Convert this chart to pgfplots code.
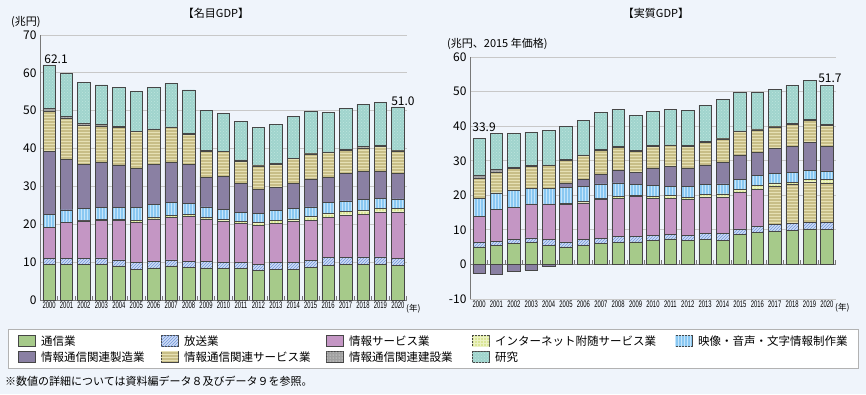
\documentclass[border=0pt]{standalone}
\usepackage{pgfplots}
\pgfplotsset{compat=1.18}
\usepackage{pgfplotstable}
\usetikzlibrary{patterns}
\usepackage{fontspec}
\setmainfont{Noto Sans CJK JP}
\newfontfamily\narrow[FakeStretch=0.62]{Liberation Sans}

\definecolor{bg}{RGB}{239,244,251}
\definecolor{cTsu}{RGB}{166,202,138}
\definecolor{cHoso}{RGB}{205,220,246}
\definecolor{cHosoL}{RGB}{115,150,218}
\definecolor{cJoho}{RGB}{196,150,196}
\definecolor{cNet}{RGB}{218,230,150}
\definecolor{cNetL}{RGB}{236,242,196}
\definecolor{cEizo}{RGB}{138,200,242}
\definecolor{cEizoL}{RGB}{196,228,250}
\definecolor{cSeizo}{RGB}{138,128,163}
\definecolor{cServ}{RGB}{200,190,135}
\definecolor{cServL}{RGB}{230,224,180}
\definecolor{cKen}{RGB}{160,160,160}
\definecolor{cRes}{RGB}{160,212,205}
\definecolor{cResL}{RGB}{190,228,222}
\definecolor{edge}{RGB}{70,70,70}
\definecolor{gridc}{RGB}{200,200,200}
\definecolor{axisc}{RGB}{120,120,120}

\tikzset{
 sTsu/.style={fill=cTsu, draw=edge, line width=0.6pt},
 sHoso/.style={fill=cHoso, draw=edge, line width=0.6pt, postaction={pattern=north east lines, pattern color=cHosoL}},
 sJoho/.style={fill=cJoho, draw=edge, line width=0.6pt},
 sNet/.style={fill=cNet, draw=edge, line width=0.6pt, postaction={pattern=grid, pattern color=cNetL}},
 sEizo/.style={fill=cEizo, draw=edge, line width=0.6pt, postaction={pattern=vertical lines, pattern color=cEizoL}},
 sSeizo/.style={fill=cSeizo, draw=edge, line width=0.6pt},
 sServ/.style={fill=cServ, draw=edge, line width=0.6pt, postaction={pattern=horizontal lines, pattern color=cServL}},
 sKen/.style={fill=cKen, draw=edge, line width=0.6pt, postaction={pattern=dots, pattern color=white}},
 sRes/.style={fill=cRes, draw=edge, line width=0.6pt, postaction={pattern=crosshatch dots, pattern color=cResL}},
}

\pgfplotsset{
 common/.style={
  scale only axis, ybar stacked, bar width=12.5pt,
  xmin=1999.48, xmax=2020.52,
  xtick={2000,...,2020},
  /pgf/number format/assume math mode=true,
  /pgf/number format/set thousands separator={},
  xticklabel style={font=\narrow\fontsize{9.5}{10}\selectfont, text=black, inner sep=1.5pt},
  yticklabel style={font=\fontsize{12}{12}\selectfont, text=black},
  ymajorgrids, grid style={gridc, line width=0.8pt},
  axis x line*=bottom, axis y line*=left,
  y axis line style={axisc, line width=1pt},
  major tick length=0pt,
  clip=false,
 }
}

\pgfplotstableread{
yr tsu hoso joho net eizo seizo serv ken res
2000 9.4 1.5 8.2 0.1 3.4 16.6 10.7 0.7 11.5
2001 9.4 1.5 9.5 0.2 3.2 13.3 10.9 0.6 11.3
2002 9.4 1.6 9.9 0.2 3.1 11.7 10.3 0.5 10.8
2003 9.4 1.7 10.0 0.2 3.2 11.9 9.6 0.3 10.5
2004 9.0 1.6 10.5 0.2 3.1 11.3 9.8 0.3 10.4
2005 8.1 1.8 10.6 0.5 3.4 10.4 9.7 0.1 10.4
2006 8.5 1.6 11.3 0.4 3.4 10.6 9.3 0.1 11.0
2007 9.0 1.6 11.2 0.6 3.3 10.7 9.1 0.2 11.5
2008 8.6 1.7 11.7 0.6 2.9 10.4 7.9 0.2 11.5
2009 8.5 1.6 11.3 0.5 2.7 7.8 6.9 0.2 10.5
2010 8.4 1.5 10.8 0.6 2.6 8.7 6.6 0.1 10.0
2011 8.4 1.5 10.3 0.6 2.4 7.6 5.9 0.3 10.1
2012 7.9 1.5 10.3 0.7 2.5 6.3 6.2 0.3 9.9
2013 8.1 1.8 10.3 0.8 2.6 6.2 6.1 0.2 10.2
2014 8.1 1.9 10.7 0.7 2.7 6.7 6.5 0.2 10.9
2015 8.6 1.9 10.6 0.9 2.6 7.4 6.6 0.1 11.1
2016 9.2 2.0 10.6 1.0 2.9 6.6 6.6 0.2 10.4
2017 9.4 1.9 11.0 1.1 2.8 7.3 6.1 0.3 10.7
2018 9.5 1.9 11.2 1.1 2.9 7.3 6.3 0.3 11.2
2019 9.5 1.9 11.8 1.0 2.6 7.1 6.6 0.3 11.3
2020 9.2 1.8 12.1 1.0 2.6 6.8 5.9 0.2 11.4
}\nominal

\pgfplotstableread{
yr tsu hoso joho johoT net eizo seizo serv ken res
2000 5.1 1.2 7.6 0 0.0 5.1 0 6.0 0.8 10.7
2001 5.6 1.1 9.2 0 0.1 4.7 0 6.0 0.9 10.2
2002 6.0 1.2 9.4 0 0.0 4.8 0 6.3 0.4 9.9
2003 6.3 1.4 9.8 0 0.0 4.6 0 6.3 0.3 9.6
2004 5.6 1.6 10.3 0 0.0 4.6 0 6.6 0.1 9.9
2005 5.1 1.4 10.8 0 0.3 4.7 1.3 6.5 0.2 9.6
2006 5.5 1.7 10.6 0 0.5 4.3 1.9 7.0 0.2 9.9
2007 6.0 1.6 11.2 0 0.4 4.1 2.7 6.9 0.3 10.7
2008 6.3 1.7 11.0 0 0.7 3.9 3.6 6.7 0.2 10.8
2009 6.5 1.7 11.5 0 0.3 3.1 3.6 6.0 0.2 10.3
2010 7.0 1.5 10.5 0 0.7 3.2 5.0 6.2 0.3 9.8
2011 7.4 1.4 10.4 0 0.7 2.7 5.8 6.0 0.2 10.3
2012 7.0 1.5 10.3 0 0.7 3.1 5.3 6.2 0.3 10.1
2013 7.2 1.7 10.6 0 0.7 2.9 5.7 6.5 0.2 10.5
2014 7.0 1.9 10.6 0 0.9 2.9 6.3 6.7 0.2 11.3
2015 8.6 1.7 10.6 0 0.9 2.7 7.2 6.7 0.2 11.1
2016 9.3 1.8 10.7 0 1.1 2.8 6.8 6.4 0.3 10.6
2017 9.7 1.8 0 11.1 1.0 2.8 7.2 6.2 0.2 10.7
2018 9.9 1.9 0 11.3 0.7 2.8 7.6 6.2 0.3 11.1
2019 10.3 1.9 0 11.6 0.9 2.5 8.0 6.5 0.2 11.4
2020 10.1 2.1 0 11.4 1.0 2.3 7.3 6.0 0.2 11.3
}\real

\pgfplotstableread{
yr neg
2000 -2.6
2001 -2.8
2002 -1.9
2003 -1.6
2004 -0.4
}\realneg

\begin{document}
\begin{tikzpicture}[x=1pt,y=1pt]
\fill[bg] (0,0) rectangle (866,-394);
\useasboundingbox (0,0) rectangle (866,-394);

% titles and units
\node[font=\fontsize{11}{12}\selectfont] at (216,-13) {【名目GDP】};
\node[font=\fontsize{11}{12}\selectfont] at (656,-13) {【実質GDP】};
\node[anchor=west, font=\fontsize{11}{12}\selectfont, inner sep=0pt] at (11,-22) {(兆円)};
\node[anchor=west, font=\fontsize{11}{12}\selectfont, inner sep=0pt] at (447,-44) {(兆円、2015 年価格)};

% ---------- nominal ----------
\begin{axis}[common,
  at={(40pt,-300pt)}, anchor=south west,
  width=367pt, height=265pt,
  ymin=0, ymax=70, ytick={0,10,...,70},
  x axis line style={axisc, line width=1pt},
  minor xtick={1999.5,2000.5,...,2020.5},
  minor tick length=4pt, tick align=inside,
  minor x tick style={axisc, line width=0.8pt},
]
\addplot[sTsu] table[x=yr,y=tsu]{\nominal};
\addplot[sHoso] table[x=yr,y=hoso]{\nominal};
\addplot[sJoho] table[x=yr,y=joho]{\nominal};
\addplot[sNet] table[x=yr,y=net]{\nominal};
\addplot[sEizo] table[x=yr,y=eizo]{\nominal};
\addplot[sSeizo] table[x=yr,y=seizo]{\nominal};
\addplot[sServ] table[x=yr,y=serv]{\nominal};
\addplot[sKen] table[x=yr,y=ken]{\nominal};
\addplot[sRes] table[x=yr,y=res]{\nominal};
\node[anchor=south, font=\fontsize{12}{12}\selectfont, inner sep=1.5pt, xshift=7pt] at (axis cs:2000,62.1) {62.1};
\node[anchor=south, font=\fontsize{12}{12}\selectfont, inner sep=1.5pt, xshift=5pt] at (axis cs:2020,51.0) {51.0};
\end{axis}
\node[anchor=west, font=\fontsize{8.5}{9}\selectfont, inner sep=0pt] at (406,-309) {(年)};

% ---------- real ----------
\begin{axis}[common,
  at={(470pt,-299pt)}, anchor=south west,
  width=366pt, height=242pt,
  ymin=-10, ymax=60, ytick={-10,0,...,60},
  x axis line style={gridc, line width=0.8pt},
]
\addplot[sTsu] table[x=yr,y=tsu]{\real};
\addplot[sHoso] table[x=yr,y=hoso]{\real};
\addplot[sJoho] table[x=yr,y=joho]{\real};
\addplot[sServ, forget plot] table[x=yr,y=johoT]{\real};
\addplot[sNet] table[x=yr,y=net]{\real};
\addplot[sEizo] table[x=yr,y=eizo]{\real};
\addplot[sSeizo] table[x=yr,y=seizo]{\real};
\addplot[sServ] table[x=yr,y=serv]{\real};
\addplot[sKen] table[x=yr,y=ken]{\real};
\addplot[sRes] table[x=yr,y=res]{\real};
\draw[axisc, line width=1pt] (axis cs:1999.48,0) -- (axis cs:2020.52,0);
\pgfplotsinvokeforeach{1999.5,2000.5,...,2020.5}{
  \draw[axisc, line width=0.8pt] (axis cs:#1,0) -- ++(0pt,4pt);
}
\node[anchor=south, font=\fontsize{12}{12}\selectfont, inner sep=1.5pt, xshift=5pt, yshift=5pt] at (axis cs:2000,36.4) {33.9};
\node[anchor=south, font=\fontsize{12}{12}\selectfont, inner sep=1.5pt, xshift=3pt, yshift=1pt] at (axis cs:2020,51.7) {51.7};
\end{axis}
\begin{axis}[
  scale only axis, ybar, bar width=12.5pt,
  at={(470pt,-299pt)}, anchor=south west,
  width=366pt, height=242pt,
  xmin=1999.48, xmax=2020.52, ymin=-10, ymax=60,
  hide axis, clip=false,
]
\addplot[sSeizo] table[x=yr,y=neg]{\realneg};
\end{axis}
\node[anchor=west, font=\fontsize{8.5}{9}\selectfont, inner sep=0pt] at (835,-308) {(年)};

% ---------- legend ----------
\draw[gray!60, fill=white, line width=0.8pt] (8,-329) rectangle (858,-368);
\def\sw#1#2#3#4{%
  \path[#1] (#2,-#3-5.5) rectangle (#2+17,-#3+5.5);
  \node[anchor=west, font=\fontsize{11.5}{12}\selectfont, inner sep=0pt] at (#2+23,-#3) {#4};}
\sw{sTsu}{18}{341}{通信業}
\sw{sHoso}{161}{341}{放送業}
\sw{sJoho}{326}{341}{情報サービス業}
\sw{sNet}{472}{341}{インターネット附随サービス業}
\sw{sEizo}{675}{341}{映像・音声・文字情報制作業}
\sw{sSeizo}{18}{357}{情報通信関連製造業}
\sw{sServ}{161}{357}{情報通信関連サービス業}
\sw{sKen}{326}{357}{情報通信関連建設業}
\sw{sRes}{472}{357}{研究}

\node[anchor=west, font=\fontsize{11}{12}\selectfont, inner sep=0pt] at (5,-381) {※数値の詳細については資料編データ８及びデータ９を参照。};
\end{tikzpicture}
\end{document}
